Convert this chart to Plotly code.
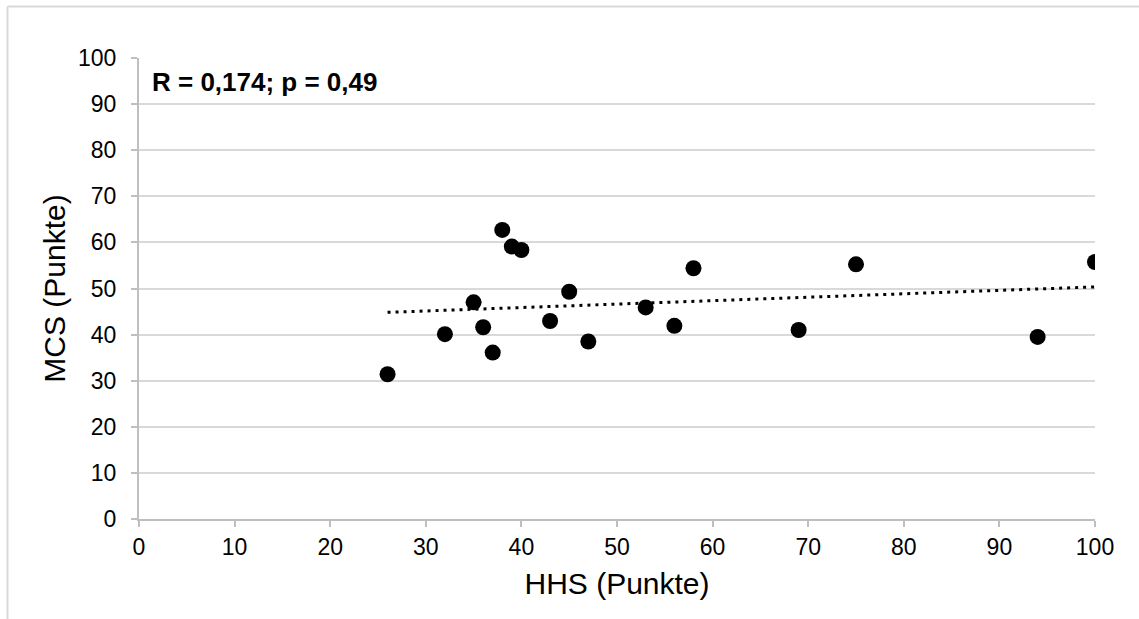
import numpy as np
import plotly.graph_objects as go

# Data
hhs = [26, 32, 35, 36, 37, 38, 39, 40, 43, 45, 47, 53, 56, 58, 69, 75, 94, 100]
mcs = [31.4, 40.1, 47.0, 41.6, 36.1, 62.7, 59.1, 58.35, 42.95, 49.3, 38.5, 45.9,
       41.9, 54.4, 41.0, 55.25, 39.5, 55.75]
x_ticks = [0, 10, 20, 30, 40, 50, 60, 70, 80, 90, 100]
y_ticks = [0, 10, 20, 30, 40, 50, 60, 70, 80, 90, 100]
stats_label = "R = 0,174; p = 0,49"
x_title = "HHS (Punkte)"
y_title = "MCS (Punkte)"

slope, intercept = np.polyfit(hhs, mcs, 1)
trend_x = [min(hhs), max(hhs)]
trend_y = [slope * v + intercept for v in trend_x]

FONT = "Liberation Sans, Arial, sans-serif"

fig = go.Figure()
fig.add_trace(go.Scatter(
    x=trend_x, y=trend_y, mode="lines",
    line=dict(color="black", width=3, dash="3px,5px"),
    hoverinfo="skip", showlegend=False,
))
fig.add_trace(go.Scatter(
    x=hhs, y=mcs, mode="markers",
    marker=dict(color="black", size=16, line=dict(width=0)),
    showlegend=False,
))

W, H = 1139, 619
ml, mr, mt, mb = 139, 44, 58, 100
pw, ph = W - ml - mr, H - mt - mb
fx = (7.5 - ml) / pw
fy = 1 + (mt - 6.5) / ph

fig.update_layout(
    width=W, height=H,
    margin=dict(l=ml, r=mr, t=mt, b=mb),
    paper_bgcolor="white", plot_bgcolor="white",
    font=dict(family=FONT, color="black"),
    xaxis=dict(
        range=[0, 100], tickvals=x_ticks, ticktext=[str(v) for v in x_ticks],
        showgrid=False, zeroline=False,
        showline=True, linecolor="#bfbfbf", linewidth=2,
        ticks="outside", ticklen=6, tickcolor="#bfbfbf", tickwidth=2,
        ticklabelstandoff=0,
        tickfont=dict(size=23, family=FONT, color="black"),
        title=dict(text=x_title, font=dict(size=30, family=FONT, color="black"), standoff=14),
        fixedrange=True,
    ),
    yaxis=dict(
        range=[0, 100], tickvals=y_ticks, ticktext=[str(v) for v in y_ticks],
        showgrid=True, gridcolor="#d9d9d9", gridwidth=2, zeroline=False,
        showline=True, linecolor="#bfbfbf", linewidth=2,
        ticks="outside", ticklen=6, tickcolor="#bfbfbf", tickwidth=2,
        ticklabelstandoff=10,
        tickfont=dict(size=23, family=FONT, color="black"),
        title=dict(text=y_title, font=dict(size=30, family=FONT, color="black"), standoff=4),
        fixedrange=True,
    ),
    annotations=[dict(
        text="<b>" + stats_label + "</b>", xref="paper", yref="paper",
        x=0.011, y=(519 - 82) / 461, xanchor="left", yanchor="middle", showarrow=False,
        font=dict(size=26, family=FONT, color="black"),
    )],
    shapes=[
        dict(type="line", xref="paper", yref="paper", x0=fx, x1=fx, y0=-0.5, y1=fy,
             line=dict(color="#d9d9d9", width=2)),
        dict(type="line", xref="paper", yref="paper", x0=fx, x1=1.2, y0=fy, y1=fy,
             line=dict(color="#d9d9d9", width=2)),
    ],
)

fig.write_html(
    "out.html",
    config={"displayModeBar": False},
    post_script="document.body.style.margin='0';document.body.style.overflow='hidden';",
)
